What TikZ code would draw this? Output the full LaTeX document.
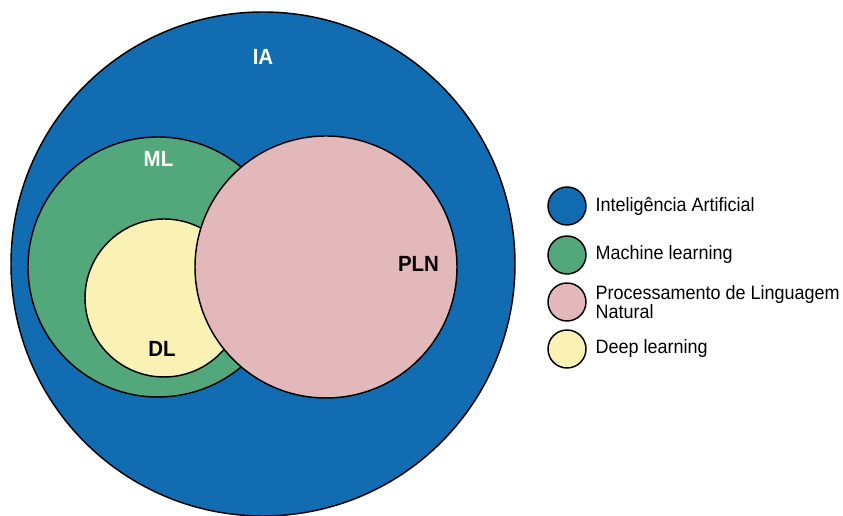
\documentclass[tikz,border=0pt]{standalone}
\usepackage{fontspec}
\setmainfont{Liberation Sans}[FakeStretch=0.93]
\usepackage{tikz}
\usetikzlibrary{positioning}

\definecolor{iablue}{RGB}{17,108,177}
\definecolor{mlgreen}{RGB}{82,168,122}
\definecolor{plnpink}{RGB}{227,184,187}
\definecolor{dlyellow}{RGB}{250,242,180}

\tikzset{
  set/.style={draw=black, line width=1.1pt},
  setlabel/.style={inner sep=0pt, font=\fontsize{16.5}{18}\selectfont\bfseries},
  key/.style={circle, draw=black, line width=1.1pt, minimum size=28.5pt, inner sep=0pt},
  keytext/.style={right=6.5pt of #1, inner sep=0pt, align=left,
    font=\fontsize{14.5}{14.3}\selectfont}
}

\begin{document}
\begin{tikzpicture}[x=0.75pt,y=0.75pt]
\useasboundingbox (0,0) rectangle (843,516);
\clip (0,0) rectangle (843,516);
% the sets
\filldraw[set, fill=iablue] (263,252) circle[radius=252];
\filldraw[set, fill=mlgreen] (158,249) circle[radius=130];
\filldraw[set, fill=dlyellow] (164,218) circle[radius=79];
\filldraw[set, fill=plnpink] (326,249) circle[radius=131];
\node[setlabel, white] (ia) at (263,459) {IA};
\node[setlabel, white] (ml) at (158.5,357.5) {ML};
\node[setlabel] (dl) at (162,167.5) {DL};
\node[setlabel] (pln) at (418.5,252) {PLN};
% legend
\node[key, fill=iablue] (kia) at (567,310) {};
\node[keytext=kia] (tia) {Inteligência Artificial};
\node[key, fill=mlgreen] (kml) at (567,261) {};
\node[keytext=kml] (tml) {Machine learning};
\node[key, fill=plnpink] (kpln) at (567,214) {};
\node[keytext=kpln] (tpln) {Processamento de Linguagem\\Natural};
\node[key, fill=dlyellow] (kdl) at (567,167) {};
\node[keytext=kdl] (tdl) {Deep learning};
\end{tikzpicture}
\end{document}
